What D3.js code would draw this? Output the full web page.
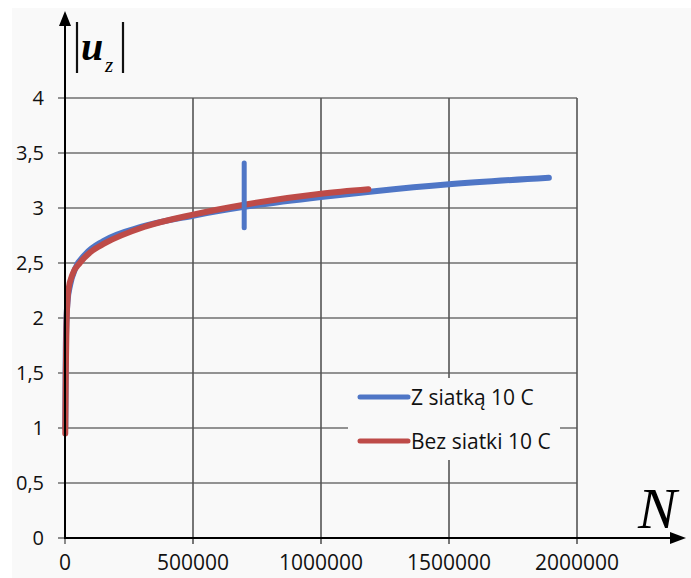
<!DOCTYPE html>
<html>
<head>
<meta charset="utf-8">
<script src="https://cdn.jsdelivr.net/npm/d3@7"></script>
<style>
  body { margin: 0; background: #fff; }
  svg { display: block; }
</style>
</head>
<body>
<svg id="chart" width="691" height="578"></svg>
<script>
// data
let seriesNames = ["Z siatką 10 C", "Bez siatki 10 C"];
let seriesColors = ["#4f76c6", "#be4b48"];

let zN = [1000, 3000, 6000, 10000, 20000, 40000, 80000, 150000, 300000, 500000, 700000, 1000000, 1200000, 1500000, 1890000];
let zU = [1.0, 1.7, 2.0, 2.15, 2.3, 2.45, 2.58, 2.7, 2.83, 2.93, 3.01, 3.10, 3.15, 3.215, 3.275];

let bN = [1000, 3000, 6000, 13000, 30000, 58000, 100000, 156000, 312000, 500000, 700000, 1000000, 1185000];
let bU = [0.95, 1.5, 1.95, 2.25, 2.4, 2.5, 2.6, 2.68, 2.83, 2.94, 3.03, 3.13, 3.17];

// vertical marker on the blue series
let markN = 700000, markLo = 2.82, markHi = 3.41;

let xTicks = [0, 500000, 1000000, 1500000, 2000000];
let yTicks = [0, 0.5, 1, 1.5, 2, 2.5, 3, 3.5, 4];

let svg = d3.select("#chart");
svg.append("rect").attr("x", 12).attr("y", 8).attr("width", 679).attr("height", 570).attr("fill", "#f9f9f9");

let x = d3.scaleLinear().domain([0, 2000000]).range([65, 577]);
let y = d3.scaleLinear().domain([0, 4]).range([538, 98]);

let fmtY = d => String(d).replace(".", ",");
let font = "'Open Sans', sans-serif";

// grid
let g = svg.append("g");
g.selectAll(".hg").data(yTicks.slice(1)).enter().append("line")
  .attr("x1", 58).attr("x2", x(2000000))
  .attr("y1", d => y(d)).attr("y2", d => y(d))
  .attr("stroke", "#6f6f6f").attr("stroke-width", 1.6);
g.selectAll(".vg").data(xTicks.slice(1)).enter().append("line")
  .attr("x1", d => x(d)).attr("x2", d => x(d))
  .attr("y1", y(4)).attr("y2", 544)
  .attr("stroke", "#555").attr("stroke-width", 1.6);

// tick marks
g.append("line").attr("x1", 58).attr("x2", 65).attr("y1", y(0)).attr("y2", y(0)).attr("stroke", "#6f6f6f").attr("stroke-width", 1.6);
g.append("line").attr("x1", x(0)).attr("x2", x(0)).attr("y1", 538).attr("y2", 544).attr("stroke", "#6f6f6f").attr("stroke-width", 1.6);

// tick labels
svg.selectAll(".yl").data(yTicks).enter().append("text")
  .attr("x", 44).attr("y", d => y(d)).attr("dy", "0.36em")
  .attr("text-anchor", "end")
  .style("font-family", font).style("font-size", "20px").attr("fill", "#111")
  .text(fmtY);
svg.selectAll(".xl").data(xTicks).enter().append("text")
  .attr("x", d => x(d)).attr("y", 570)
  .attr("text-anchor", "middle")
  .style("font-family", font).style("font-size", "21px").attr("fill", "#111")
  .text(d => d);

// legend box (covers the grid)
svg.append("rect").attr("x", 348).attr("y", 378).attr("width", 212).attr("height", 82).attr("fill", "#f9f9f9");

// curves
let line = d3.line().x(d => x(d[0])).y(d => y(d[1])).curve(d3.curveMonotoneX);
let zData = zN.map((n, i) => [n, zU[i]]);
let bData = bN.map((n, i) => [n, bU[i]]);

svg.append("path").datum(zData).attr("d", line)
  .attr("fill", "none").attr("stroke", seriesColors[0]).attr("stroke-width", 6).attr("stroke-linecap", "round");
svg.append("path").datum(bData).attr("d", line)
  .attr("fill", "none").attr("stroke", seriesColors[1]).attr("stroke-width", 6).attr("stroke-linecap", "round");
svg.append("line")
  .attr("x1", x(markN)).attr("x2", x(markN)).attr("y1", y(markLo)).attr("y2", y(markHi))
  .attr("stroke", seriesColors[0]).attr("stroke-width", 5).attr("stroke-linecap", "round");

// axes with arrows
svg.append("line").attr("x1", x(0)).attr("x2", x(0)).attr("y1", 538).attr("y2", 22).attr("stroke", "#000").attr("stroke-width", 2);
svg.append("path").attr("d", "M65,11 L59,26 L71,26 Z").attr("fill", "#000");
svg.append("line").attr("x1", 64).attr("x2", 672).attr("y1", 538).attr("y2", 538).attr("stroke", "#000").attr("stroke-width", 2);
svg.append("path").attr("d", "M686,538 L670,532 L670,544 Z").attr("fill", "#000");

// legend
seriesNames.forEach((name, i) => {
  let ly = 397 + i * 44;
  svg.append("line").attr("x1", 360).attr("x2", 408).attr("y1", ly).attr("y2", ly)
    .attr("stroke", seriesColors[i]).attr("stroke-width", 5).attr("stroke-linecap", "round");
  svg.append("text").attr("x", 411).attr("y", ly).attr("dy", "0.36em")
    .style("font-family", font).style("font-size", "21px").attr("fill", "#111")
    .text(name);
});

// axis titles
svg.append("line").attr("x1", 77).attr("x2", 77).attr("y1", 22).attr("y2", 73).attr("stroke", "#111").attr("stroke-width", 2.2);
svg.append("line").attr("x1", 123).attr("x2", 123).attr("y1", 22).attr("y2", 73).attr("stroke", "#111").attr("stroke-width", 2.2);
svg.append("text").attr("x", 81).attr("y", 60)
  .style("font-family", "'Liberation Serif', serif").style("font-style", "italic").style("font-weight", "bold").style("font-size", "40px")
  .text("u");
svg.append("text").attr("x", 105).attr("y", 72)
  .style("font-family", "'Liberation Serif', serif").style("font-style", "italic").style("font-size", "21px")
  .text("z");
svg.append("text").attr("x", 638).attr("y", 528)
  .style("font-family", "'Liberation Serif', serif").style("font-style", "italic").style("font-size", "58px")
  .text("N");
</script>
</body>
</html>
